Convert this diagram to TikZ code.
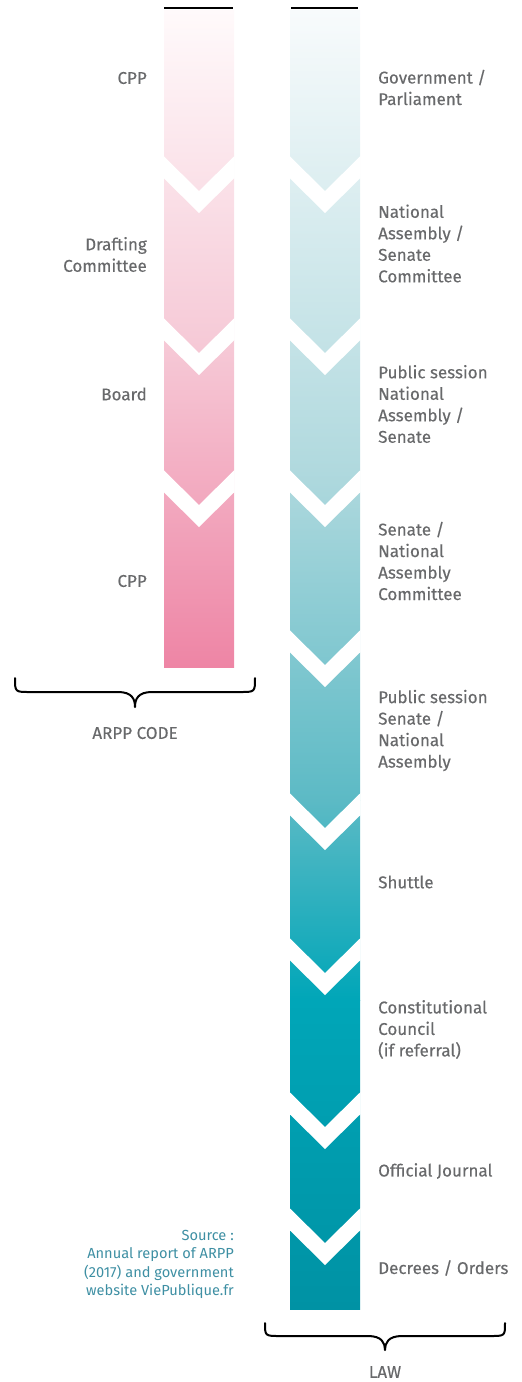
\documentclass[tikz,border=0pt]{standalone}
\usepackage{fontspec}
\setmainfont{Fira Sans}
\newfontfamily\labfont{Fira Sans}[FakeBold=0.35]
\definecolor{lbl}{HTML}{68696B}
\definecolor{src}{HTML}{3E8FA3}
\definecolor{pA}{HTML}{FFFAFB}
\definecolor{pB}{HTML}{F6CAD7}
\definecolor{pC}{HTML}{EE85A5}
\definecolor{tA}{HTML}{F8FBFC}
\definecolor{tB}{HTML}{B0D9DE}
\definecolor{tC}{HTML}{5CBAC5}
\definecolor{tD}{HTML}{00A6B8}
\definecolor{tE}{HTML}{0092A4}
\tikzset{
  lab/.style={text=lbl, inner sep=0pt, font=\labfont\fontsize{17}{21.5}\selectfont},
  rlab/.style={lab, anchor=west, align=left},
  llab/.style={lab, anchor=east, align=right},
  srclab/.style={text=src, inner sep=0pt, anchor=east, align=right, font=\fontsize{14.6}{18.4}\selectfont},
  brace/.style={line width=2pt, line cap=round, line join=round},
  topline/.style={line width=2pt}
}
\begin{document}
\begin{tikzpicture}[x=1pt,y=-1pt]
\useasboundingbox (0,0) rectangle (522,1382);
% left bar
\shade[top color=pA, bottom color=pB] (164,10) rectangle (234,340.5);
\shade[top color=pB, bottom color=pC] (164,340) rectangle (234,667);
% right bar
\shade[top color=tA, bottom color=tB] (290,10) rectangle (360,470.5);
\shade[top color=tB, bottom color=tC] (290,470) rectangle (360,800.5);
\shade[top color=tC, bottom color=tD] (290,800) rectangle (360,1000.5);
\shade[top color=tD, bottom color=tE] (290,1000) rectangle (360,1309);
% chevrons
\foreach \s in {156,318,470}{
  \fill[white] (163.5,\s) -- (199,\s+35) -- (234.5,\s) -- (234.5,\s+22) -- (199,\s+57) -- (163.5,\s+22) -- cycle;
}
\foreach \s in {156,318,470,630,793,938,1092,1208}{
  \fill[white] (289.5,\s) -- (325,\s+35) -- (360.5,\s) -- (360.5,\s+22) -- (325,\s+57) -- (289.5,\s+22) -- cycle;
}
% top lines
\draw[topline] (164,8) -- (233,8);
\draw[topline] (291,8) -- (358,8);
% left labels
\node[llab] (l1) at (147,78) {CPP};
\node[llab] (l2) at (147,254.5) {Drafting\\Committee};
\node[llab] (l3) at (147,394) {Board};
\node[llab] (l4) at (147,581) {CPP};
% right labels
\node[rlab] (r1) at (378,87.5) {Government /\\Parliament};
\node[rlab] (r2) at (378,243.5) {National\\Assembly /\\Senate\\Committee};
\node[rlab] (r3) at (378,404) {Public session\\National\\Assembly /\\Senate};
\node[rlab] (r4) at (378,561) {Senate /\\National\\Assembly\\Committee};
\node[rlab] (r5) at (378,730.5) {Public session\\Senate /\\National\\Assembly};
\node[rlab] (r6) at (378,882) {Shuttle};
\node[rlab] (r7) at (378,1029.5) {Constitutional\\Council\\(if referral)};
\node[rlab] (r8) at (378,1171) {Official Journal};
\node[rlab] (r9) at (378,1268) {Decrees / Orders};
% source
\node[srclab] (src) at (234,1264.5) {Source :\\Annual report of ARPP\\(2017) and government\\website ViePublique.fr};
% braces
\draw[brace] (15,678) .. controls (15,692) .. (30,692) -- (118,692) .. controls (132,692) and (135,699) .. (135,707) .. controls (135,699) and (138,692) .. (152,692) -- (240,692) .. controls (255,692) .. (255,678);
\node[lab] (arpp) at (135,733) {ARPP CODE};
\draw[brace] (265,1323) .. controls (265,1336) .. (280,1336) -- (368,1336) .. controls (382,1336) and (385,1343) .. (385,1350) .. controls (385,1343) and (388,1336) .. (402,1336) -- (490,1336) .. controls (505,1336) .. (505,1323);
\node[lab] (law) at (385,1372) {LAW};
\end{tikzpicture}
\end{document}
